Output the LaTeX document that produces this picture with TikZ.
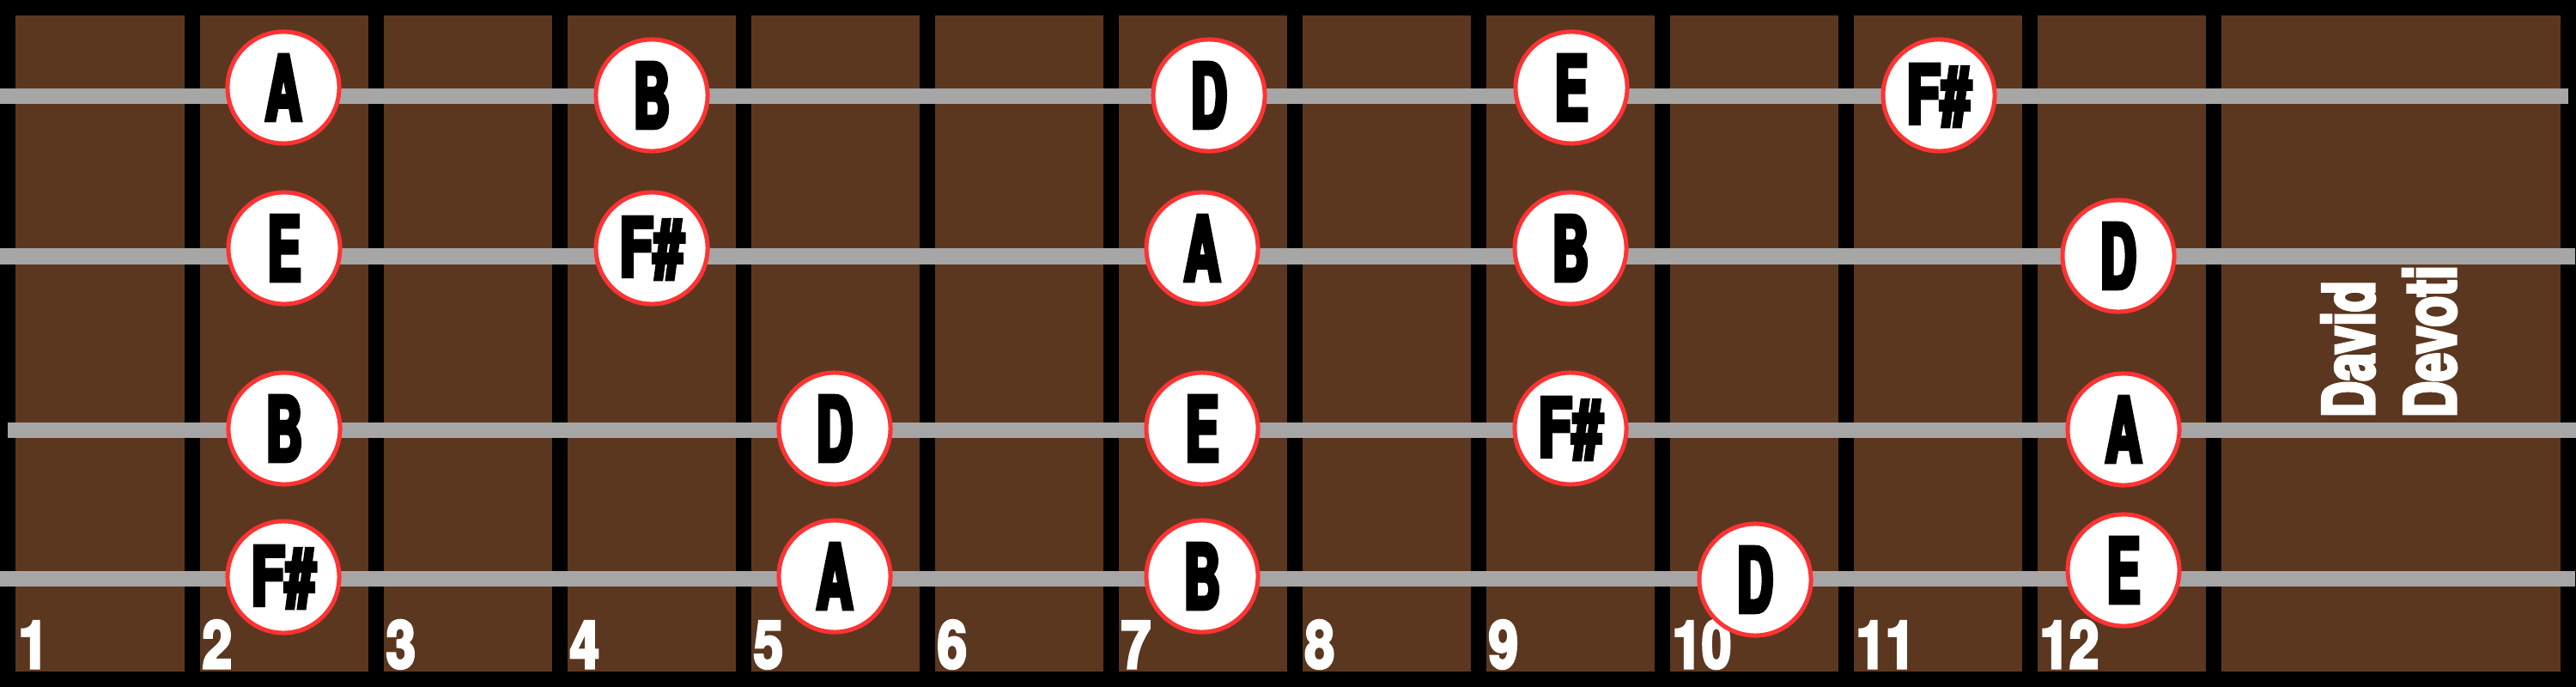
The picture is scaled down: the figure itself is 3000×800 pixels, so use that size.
\documentclass[tikz,border=0pt]{standalone}
\usepackage{fontspec}
\usepackage{tikz}
\newfontfamily\notefont[FakeStretch=0.56,FakeBold=4.5]{TeX Gyre Heros}
\newfontfamily\sharpfont[FakeStretch=0.68,FakeBold=4.5]{TeX Gyre Heros}
\newfontfamily\fretfont[FakeStretch=0.8,FakeBold=4]{TeX Gyre Heros}
\newfontfamily\namefont[FakeStretch=0.71,FakeBold=4]{TeX Gyre Heros}
\definecolor{boardbrown}{RGB}{91,55,32}
\definecolor{stringgray}{RGB}{166,166,166}
\definecolor{notered}{RGB}{255,51,51}
\tikzset{
	note/.style={circle,inner sep=0pt,minimum size=1.3cm,fill=white,draw=notered,line width=0.05cm,font=\notefont\bfseries\fontsize{29.6}{30}\selectfont},
	notesharp/.style={note,font=\sharpfont\bfseries\fontsize{27}{28}\selectfont},
	fretnum/.style={anchor=base west,inner sep=0pt,text=white,font=\fretfont\bfseries\fontsize{21.9}{22}\selectfont},
	signature/.style={anchor=base west,inner sep=0pt,text=white,rotate=90,font=\namefont\bfseries\fontsize{23.6}{24}\selectfont},
	guitarstring/.style={stringgray,line width=0.18cm}
}

\begin{document}
\begin{tikzpicture}[x=0.01cm,y=-0.01cm]
	\useasboundingbox (0,0) rectangle (3000,800);
	\fill[black] (0,0) rectangle (3000,800);
	\fill[boardbrown] (18,18) rectangle (2982,782);
	\foreach \f in {0,...,11}
		\fill[black] ({215+214*\f},18) rectangle ({233+214*\f},782);

	\draw[guitarstring] (0,112) -- (2991,112);
	\draw[guitarstring] (0,298.5) -- (2999,298.5);
	\draw[guitarstring] (9,501) -- (3000,501);
	\draw[guitarstring] (0,673.5) -- (2999,673.5);

	\foreach \n in {1,...,12}
		\node[fretnum] (fret\n) at ({21+214*(\n-1)},778) {\n};

	\node[note] (s1f2) at (330,102) {A};
	\node[note] (s1f4) at (759,111) {B};
	\node[note] (s1f7) at (1408,111) {D};
	\node[note] (s1f9) at (1830,102) {E};
	\node[notesharp] (s1f11) at (2258,111) {F\#};

	\node[note] (s2f2) at (331,289) {E};
	\node[notesharp] (s2f4) at (759,289) {F\#};
	\node[note] (s2f7) at (1400,289) {A};
	\node[note] (s2f9) at (1829,289) {B};
	\node[note] (s2f12) at (2467,298) {D};

	\node[note] (s3f2) at (331,499) {B};
	\node[note] (s3f5) at (972,499) {D};
	\node[note] (s3f7) at (1400,499) {E};
	\node[notesharp] (s3f9) at (1829,499) {F\#};
	\node[note] (s3f12) at (2473,500) {A};

	\node[notesharp] (s4f2) at (330,672) {F\#};
	\node[note] (s4f5) at (972,671) {A};
	\node[note] (s4f7) at (1400,671) {B};
	\node[note] (s4f10) at (2044,675) {D};
	\node[note] (s4f12) at (2473,664) {E};

	\node[signature] (first) at (2765,487) {David};
	\node[signature] (last) at (2860,487) {Devoti};
\end{tikzpicture}
\end{document}
